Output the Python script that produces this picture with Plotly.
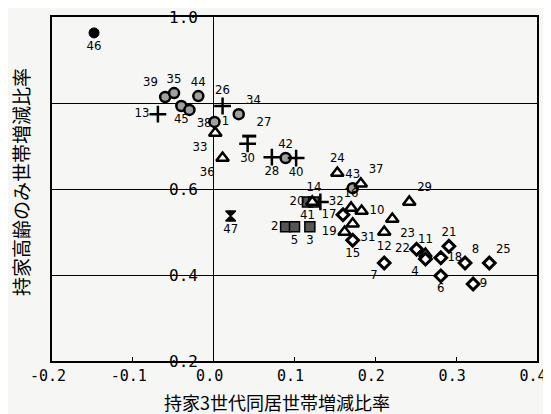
import plotly.graph_objects as go

# ---- data ----
ring_ids = ["39", "35", "45", "38", "44", "1", "34", "42", "43"]
ring_x = [-0.060, -0.049, -0.040, -0.030, -0.019, 0.001, 0.031, 0.089, 0.172]
ring_y = [0.814, 0.823, 0.793, 0.784, 0.816, 0.756, 0.774, 0.672, 0.602]
ring_pos = ["top left", "top center", "bottom center", "bottom right", "top center",
            "middle right", "top right", "top center", "top center"]

dot_ids = ["46"]
dot_x = [-0.148]
dot_y = [0.963]
dot_pos = ["bottom center"]

plus_ids = ["13", "26", "30", "28", "40", "32"]
plus_x = [-0.069, 0.011, 0.042, 0.072, 0.102, 0.132]
plus_y = [0.774, 0.793, 0.705, 0.674, 0.672, 0.570]
plus_pos = ["middle left", "top center", "bottom center", "bottom center",
            "bottom center", "middle right"]

dash_ids = ["27"]
dash_x = [0.044]
dash_y = [0.723]
dash_pos = ["top right"]

sq_ids = ["2", "5", "3", "41", "14"]
sq_x = [0.089, 0.100, 0.119, 0.116, 0.124]
sq_y = [0.512, 0.512, 0.512, 0.570, 0.570]
sq_pos = ["middle left", "bottom center", "bottom center", "bottom center", "top center"]

tri_ids = ["33", "36", "24", "37", "20", "16", "10", "31", "19", "12", "23", "29", "11"]
tri_x = [0.002, 0.011, 0.153, 0.182, 0.122, 0.170, 0.183, 0.172, 0.162, 0.211, 0.221, 0.242, 0.262]
tri_y = [0.730, 0.672, 0.637, 0.612, 0.570, 0.556, 0.549, 0.519, 0.500, 0.500, 0.530, 0.570, 0.449]
tri_pos = ["bottom left", "bottom left", "top center", "top right", "middle left",
           "top center", "middle right", "bottom right", "middle left", "bottom center",
           "bottom right", "top right", "top center"]

dia_ids = ["17", "15", "7", "22", "4", "6", "18", "21", "8", "25", "9"]
dia_x = [0.160, 0.172, 0.211, 0.251, 0.262, 0.281, 0.281, 0.291, 0.311, 0.341, 0.321]
dia_y = [0.540, 0.481, 0.428, 0.460, 0.437, 0.398, 0.440, 0.467, 0.428, 0.428, 0.379]
dia_pos = ["middle left", "bottom center", "bottom left", "middle left", "bottom left",
           "bottom center", "middle right", "top center", "top right", "top right", "middle right"]

star_ids = ["47"]
star_x = [0.021]
star_y = [0.537]
star_pos = ["bottom center"]

x_tick_vals = [-0.2, -0.1, 0.0, 0.1, 0.2, 0.3, 0.4]
x_tick_text = ["-0.2", "-0.1", "0.0", "0.1", "0.2", "0.3", "0.4"]
# the 0.8 label is hidden under the markers in the reference, so it is left blank
y_tick_vals = [0.2, 0.4, 0.6, 0.8, 1.0]
y_tick_text = ["0.2", "0.4", "0.6", "", "1.0"]

x_title = "持家3世代同居世帯増減比率"
y_title = "持家高齢のみ世帯増減比率"

# ---- figure ----
LBL_FONT = dict(family="Liberation Sans Narrow, DejaVu Sans Condensed, Arial", size=13, color="black")
TICK_FONT = dict(family="DejaVu Sans Mono, Liberation Mono, monospace", size=15, color="black")
JP_FONT = dict(family="Noto Sans CJK JP", size=18, color="black")

fig = go.Figure()

def add(ids, xs, ys, pos, symbol, size, fill, lw):
    fig.add_trace(go.Scatter(
        x=xs, y=ys, text=ids, textposition=pos, mode="markers+text",
        marker=dict(symbol=symbol, size=size, color=fill,
                    line=dict(color="black", width=lw)),
        textfont=LBL_FONT, cliponaxis=False, showlegend=False))

add(sq_ids, sq_x, sq_y, sq_pos, "square", 10, "#555555", 1.5)
add(ring_ids, ring_x, ring_y, ring_pos, "circle", 10, "#a0a0a0", 2.5)
add(dot_ids, dot_x, dot_y, dot_pos, "circle", 10, "black", 1)
add(plus_ids, plus_x, plus_y, plus_pos, "cross-thin", 12, "black", 2.5)
add(dash_ids, dash_x, dash_y, dash_pos, "line-ew", 10, "black", 3)
add(tri_ids, tri_x, tri_y, tri_pos, "triangle-up", 11, "white", 2.5)
add(dia_ids, dia_x, dia_y, dia_pos, "diamond", 9, "white", 3)
add(star_ids, star_x, star_y, star_pos, "hourglass", 10, "black", 1.5)

# y tick labels sit next to the x = 0 line
for v, t in zip(y_tick_vals, y_tick_text):
    if t:
        fig.add_annotation(x=0, y=v, xref="x", yref="y", text=t, showarrow=False,
                           xanchor="right", yanchor="middle", xshift=-14,
                           font=dict(family="DejaVu Sans Mono, monospace", size=16, color="black"))

fig.add_annotation(x=0.464, y=-0.118, xref="paper", yref="paper", text=x_title,
                   showarrow=False, xanchor="center", yanchor="middle", font=JP_FONT)
fig.add_annotation(x=-0.066, y=0.52, xref="paper", yref="paper", text=y_title,
                   showarrow=False, textangle=-90, xanchor="center", yanchor="middle",
                   font=dict(family="Noto Sans CJK JP", size=19, color="black"))

# the page body has an 8px default margin; size the figure to fill the rest
fig.update_layout(
    width=543, height=406,
    margin=dict(l=44, r=14, t=9, b=53, autoexpand=False),
    paper_bgcolor="#f6f6f4", plot_bgcolor="#f6f6f4",
    showlegend=False,
)
fig.update_xaxes(range=[-0.2, 0.4], tickvals=x_tick_vals, ticktext=x_tick_text,
                 tickfont=TICK_FONT, ticks="inside", ticklen=4, tickcolor="black",
                 ticklabeloverflow="allow", ticklabelshift=-4,
                 showgrid=False, zeroline=True, zerolinecolor="black", zerolinewidth=1,
                 showline=True, linecolor="black", linewidth=1.5, mirror=True,
                 automargin=False)
fig.update_yaxes(range=[0.2, 1.0], tickvals=y_tick_vals, showticklabels=False,
                 ticks="", showgrid=True, gridcolor="black", gridwidth=1,
                 zeroline=False, showline=True, linecolor="black", linewidth=1.5, mirror=True,
                 automargin=False)

fig.write_html("out.html")
